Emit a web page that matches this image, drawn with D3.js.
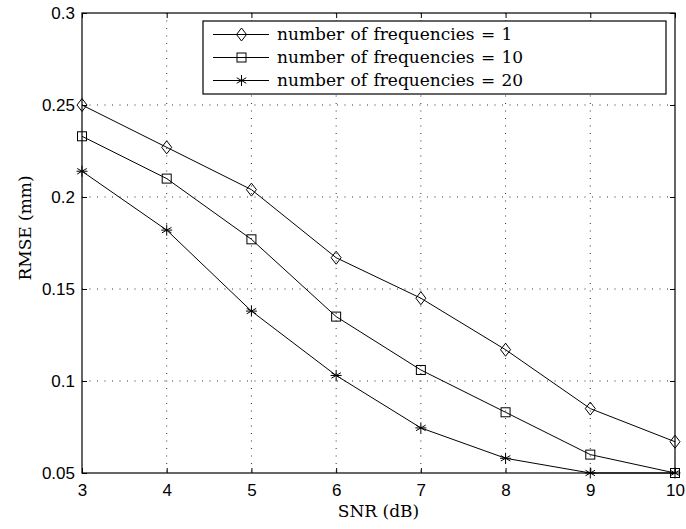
<!DOCTYPE html>
<html>
<head>
<meta charset="utf-8">
<script src="https://cdn.jsdelivr.net/npm/d3@7"></script>
<style>
  body { margin: 0; background: #fff; }
  svg { display: block; }
</style>
</head>
<body>
<div id="chart"></div>
<script>
// data
const snr = [3, 4, 5, 6, 7, 8, 9, 10];
const rmseFreq1 = [0.250, 0.227, 0.204, 0.167, 0.145, 0.117, 0.085, 0.067];
const rmseFreq10 = [0.233, 0.210, 0.177, 0.135, 0.106, 0.083, 0.060, 0.050];
const rmseFreq20 = [0.214, 0.182, 0.138, 0.103, 0.0745, 0.058, 0.050, 0.050];
const seriesLabels = [
  'number of frequencies = 1',
  'number of frequencies = 10',
  'number of frequencies = 20'
];
const xTicks = [3, 4, 5, 6, 7, 8, 9, 10];
const yTicks = [0.05, 0.1, 0.15, 0.2, 0.25, 0.3];
const yTickLabels = ['0.05', '0.1', '0.15', '0.2', '0.25', '0.3'];

const series = [
  { label: seriesLabels[0], values: rmseFreq1, marker: 'diamond' },
  { label: seriesLabels[1], values: rmseFreq10, marker: 'square' },
  { label: seriesLabels[2], values: rmseFreq20, marker: 'star' }
];

const W = 686, H = 529;
const margin = { top: 13, right: 11, bottom: 56, left: 82 };
const width = W - margin.left - margin.right;
const height = H - margin.top - margin.bottom;

const svg = d3.select('#chart')
  .append('svg')
  .attr('width', W)
  .attr('height', H);

const g = svg.append('g')
  .attr('transform', `translate(${margin.left},${margin.top})`);

const x = d3.scaleLinear().domain([3, 10]).range([0, width]);
const y = d3.scaleLinear().domain([0.05, 0.3]).range([height, 0]);

// dotted grid
g.append('g')
  .selectAll('line')
  .data(xTicks.slice(1, -1))
  .enter()
  .append('line')
  .attr('x1', d => x(d)).attr('x2', d => x(d))
  .attr('y1', 0).attr('y2', height)
  .attr('stroke', '#333')
  .attr('stroke-width', 1)
  .attr('stroke-dasharray', '1,6.5');

g.append('g')
  .selectAll('line')
  .data(yTicks.slice(1, -1))
  .enter()
  .append('line')
  .attr('x1', 0).attr('x2', width)
  .attr('y1', d => y(d)).attr('y2', d => y(d))
  .attr('stroke', '#333')
  .attr('stroke-width', 1)
  .attr('stroke-dasharray', '1,6.5');

// axes, ticks pointing inwards on all four sides
const tickFont = "'Liberation Sans', Arial, sans-serif";

const xAxis = g.append('g')
  .attr('transform', `translate(0,${height})`)
  .call(d3.axisBottom(x).tickValues(xTicks).tickSizeInner(-5).tickSizeOuter(0).tickPadding(11).tickFormat(d3.format('d')));

const yAxis = g.append('g')
  .call(d3.axisLeft(y).tickValues(yTicks).tickSizeInner(-5).tickSizeOuter(0).tickPadding(7)
    .tickFormat((d, i) => yTickLabels[i]));

const xTop = g.append('g')
  .call(d3.axisTop(x).tickValues(xTicks).tickSizeInner(-5).tickSizeOuter(0).tickFormat(''));

const yRight = g.append('g')
  .attr('transform', `translate(${width},0)`)
  .call(d3.axisRight(y).tickValues(yTicks).tickSizeInner(-5).tickSizeOuter(0).tickFormat(''));

[xAxis, yAxis, xTop, yRight].forEach(a => {
  a.select('.domain').remove();
  a.selectAll('line').attr('stroke', '#000');
  a.selectAll('text')
    .attr('fill', '#000')
    .style('font-family', tickFont)
    .style('font-size', '17px');
});

// box
g.append('rect')
  .attr('x', 0).attr('y', 0)
  .attr('width', width).attr('height', height)
  .attr('fill', 'none')
  .attr('stroke', '#000')
  .attr('stroke-width', 1.2);

// marker drawing
function drawMarker(sel, type) {
  if (type === 'diamond') {
    sel.append('path')
      .attr('d', 'M0,-6.5L5,0L0,6.5L-5,0Z')
      .attr('fill', 'none').attr('stroke', '#000').attr('stroke-width', 1);
  } else if (type === 'square') {
    sel.append('rect')
      .attr('x', -4.5).attr('y', -4.5).attr('width', 9).attr('height', 9)
      .attr('fill', 'none').attr('stroke', '#000').attr('stroke-width', 1);
  } else {
    const r = 5.5;
    [0, 60, 120].forEach(a => {
      const rad = a * Math.PI / 180;
      sel.append('line')
        .attr('x1', -r * Math.sin(rad)).attr('y1', -r * Math.cos(rad))
        .attr('x2', r * Math.sin(rad)).attr('y2', r * Math.cos(rad))
        .attr('stroke', '#000').attr('stroke-width', 1);
    });
    sel.append('line')
      .attr('x1', -r).attr('x2', r).attr('y1', 0).attr('y2', 0)
      .attr('stroke', '#000').attr('stroke-width', 1);
  }
}

const line = d3.line()
  .x((d, i) => x(snr[i]))
  .y(d => y(d));

series.forEach(s => {
  g.append('path')
    .datum(s.values)
    .attr('d', line)
    .attr('fill', 'none')
    .attr('stroke', '#000')
    .attr('stroke-width', 1);

  g.append('g')
    .selectAll('g')
    .data(s.values)
    .enter()
    .append('g')
    .attr('transform', (d, i) => `translate(${x(snr[i])},${y(d)})`)
    .each(function() { drawMarker(d3.select(this), s.marker); });
});

// legend
const serif = "'DejaVu Serif', 'Liberation Serif', serif";
const legend = svg.append('g').attr('transform', 'translate(203,21)');
legend.append('rect')
  .attr('width', 463).attr('height', 73)
  .attr('fill', '#fff')
  .attr('stroke', '#000')
  .attr('stroke-width', 1.2);

series.forEach((s, i) => {
  const row = legend.append('g').attr('transform', `translate(0,${13.5 + i * 23})`);
  row.append('line')
    .attr('x1', 10).attr('x2', 66).attr('y1', 0).attr('y2', 0)
    .attr('stroke', '#000').attr('stroke-width', 1);
  const m = row.append('g').attr('transform', 'translate(38.5,0)');
  drawMarker(m, s.marker);
  row.append('text')
    .attr('x', 74)
    .attr('y', 0)
    .attr('dy', '0.35em')
    .style('font-family', serif)
    .style('font-size', '17px')
    .style('word-spacing', '1px')
    .text(s.label);
});

// axis titles
svg.append('text')
  .attr('x', margin.left + width / 2)
  .attr('y', 517)
  .attr('text-anchor', 'middle')
  .style('font-family', serif)
  .style('font-size', '17px')
  .text('SNR (dB)');

svg.append('text')
  .attr('transform', 'translate(31,228) rotate(-90)')
  .attr('text-anchor', 'middle')
  .style('font-family', serif)
  .style('font-size', '17px')
  .text('RMSE (mm)');
</script>
</body>
</html>
